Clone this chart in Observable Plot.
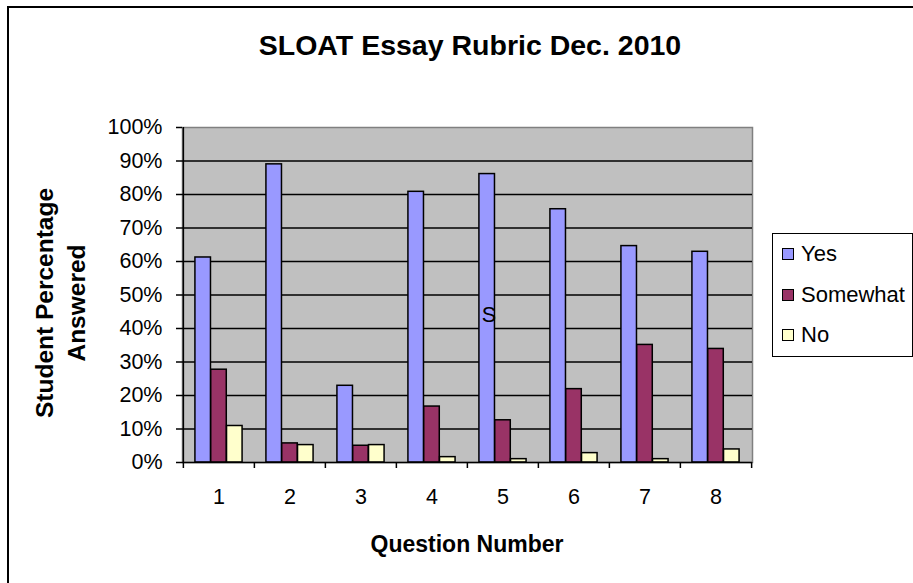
<!DOCTYPE html>
<html>
<head>
<meta charset="utf-8">
<script src="https://cdn.jsdelivr.net/npm/d3@7"></script>
<script src="https://cdn.jsdelivr.net/npm/@observablehq/plot@0.6"></script>
<style>
  html, body { margin: 0; padding: 0; background: #fff; overflow: hidden; }
  #wrap { position: relative; width: 913px; height: 583px; font-family: "Liberation Sans", Arial, sans-serif; color: #000; }
  #border { position: absolute; left: 7px; top: 6px; width: 960px; height: 640px; border: 2px solid #000; box-sizing: border-box; }
  #chart { position: absolute; left: 0; top: 0; }
  .title { position: absolute; left: 0; width: 940px; top: 29px; text-align: center; font-weight: bold; font-size: 28.5px; }
  .xtitle { position: absolute; left: 317px; width: 300px; top: 531px; text-align: center; font-weight: bold; font-size: 23px; white-space: nowrap; }
  .ytitle { position: absolute; left: 61px; top: 303px; width: 320px; margin-left: -160px; margin-top: -32px; text-align: center; font-weight: bold; font-size: 24.5px; line-height: 32px; transform: rotate(-90deg); white-space: nowrap; }
  #legend { position: absolute; left: 772px; top: 233px; width: 141px; height: 124px; border: 1.5px solid #000; box-sizing: border-box; background: #fff; }
  .item { position: absolute; left: 9px; font-size: 22px; line-height: 24px; white-space: nowrap; }
  .sw { display: inline-block; width: 10px; height: 10px; border: 1.2px solid #000; margin-right: 7px; vertical-align: 1px; }
</style>
</head>
<body>
<div id="wrap">
  <div id="border"></div>
  <div id="chart"></div>
  <div class="title" id="title"></div>
  <div class="ytitle" id="ytitle"></div>
  <div class="xtitle" id="xtitle"></div>
  <div id="legend"></div>
</div>
<script>
// ---- data ----
const titleText = "SLOAT Essay Rubric Dec. 2010";
const xTitle = "Question Number";
const yTitleLines = ["Student Percentage", "Answered"];
const questions = ["1", "2", "3", "4", "5", "6", "7", "8"];
const seriesNames = ["Yes", "Somewhat", "No"];
const seriesColors = ["#9999ff", "#993366", "#ffffcc"];
const yesValues = [61.2, 89.0, 22.9, 80.8, 86.1, 75.6, 64.6, 62.9];
const somewhatValues = [27.7, 5.7, 5.0, 16.7, 12.6, 21.9, 35.1, 33.9];
const noValues = [10.9, 5.2, 5.2, 1.6, 1.0, 2.8, 1.0, 3.9];
const yTicks = [0, 10, 20, 30, 40, 50, 60, 70, 80, 90, 100];
const strayText = [{label: "S", question: "5", value: 44}];

// ---- layout ----
const W = 913, H = 583;
const mL = 182, mR = 161, mT = 127, mB = 121;
const band = (W - mL - mR) / questions.length;
const barW = 15.8;
const groupOffset = (band - barW * 3) / 2;

const seriesValues = [yesValues, somewhatValues, noValues];
const tables = seriesValues.map((vals, i) =>
  questions.map((q, j) => ({question: q, value: vals[j], series: seriesNames[i]}))
);

const barMarks = tables.map((t, i) => {
  const insetLeft = groupOffset + i * barW;
  const insetRight = band - insetLeft - barW;
  return Plot.barY(t, {
    x: "question", y: "value", fill: seriesColors[i],
    stroke: "#000", strokeWidth: 1.5, insetLeft, insetRight
  });
});

const chart = Plot.plot({
  width: W, height: H,
  marginLeft: mL, marginRight: mR, marginTop: mT, marginBottom: mB,
  x: {domain: questions, padding: 0, axis: null},
  y: {domain: [0, 100], axis: null},
  style: {fontFamily: "'Liberation Sans', Arial, sans-serif", fontSize: "21.5px", color: "#000", background: "transparent", overflow: "visible"},
  marks: [
    Plot.frame({fill: "#c0c0c0", stroke: "#808080", strokeWidth: 1.5}),
    Plot.gridY({ticks: yTicks.slice(1, -1), stroke: "#000", strokeOpacity: 1, strokeWidth: 1.5}),
    ...barMarks,
    Plot.ruleX([questions[0]], {dx: -band / 2, stroke: "#000", strokeWidth: 1.5}),
    Plot.ruleY([0], {stroke: "#000", strokeWidth: 1.5}),
    Plot.axisY({ticks: yTicks, tickSize: 6, tickPadding: 14, tickFormat: d => d + "%", label: null, strokeWidth: 1.5, fill: "#000"}),
    Plot.axisX({tickSize: 0, tickPadding: 26, label: null, fill: "#000"}),
    Plot.axisX({text: null, tickSize: 6, dx: -band / 2, label: null, strokeWidth: 1.5}),
    Plot.axisX({ticks: [questions[questions.length - 1]], text: null, tickSize: 6, dx: band / 2, label: null, strokeWidth: 1.5}),
    Plot.text(strayText, {x: "question", y: "value", text: "label", dx: -14, fontSize: 21.5, fill: "#000"})
  ]
});
document.getElementById("chart").appendChild(chart);

document.getElementById("title").textContent = titleText;
document.getElementById("xtitle").textContent = xTitle;
document.getElementById("ytitle").innerHTML = yTitleLines.join("<br>");

const legend = document.getElementById("legend");
seriesNames.forEach((name, i) => {
  const item = document.createElement("div");
  item.className = "item";
  item.style.top = (8 + i * 40.5) + "px";
  const sw = document.createElement("span");
  sw.className = "sw";
  sw.style.background = seriesColors[i];
  item.appendChild(sw);
  item.appendChild(document.createTextNode(name));
  legend.appendChild(item);
});
</script>
</body>
</html>
